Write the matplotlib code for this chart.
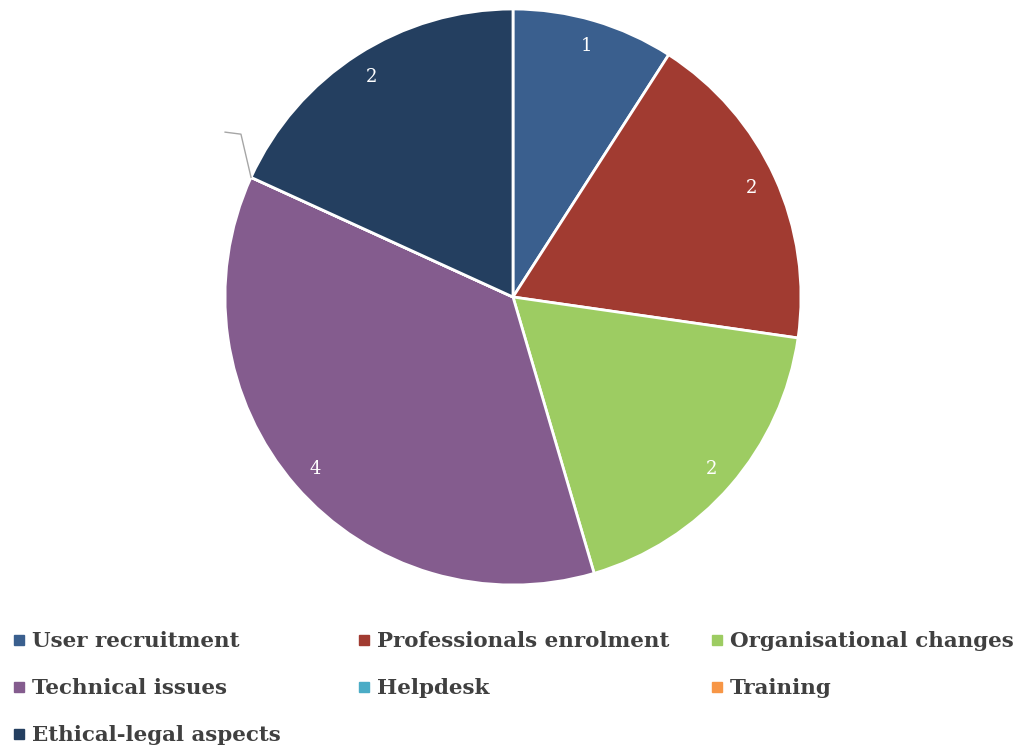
import numpy as np
import matplotlib
matplotlib.use("Agg")
import matplotlib.pyplot as plt
from matplotlib.lines import Line2D

categories = ["User recruitment", "Professionals enrolment", "Organisational changes",
              "Technical issues", "Helpdesk", "Training", "Ethical-legal aspects"]
values = [1, 2, 2, 4, 0, 0, 2]
colors = ["#3A5F8E", "#A13B31", "#9DCC62", "#845C8E", "#4BACC6", "#F79646", "#243F60"]

fig = plt.figure(figsize=(10.28, 7.49), dpi=100)
R_px = 288
cx, cy = 513, 297
ax = fig.add_axes([(cx - R_px) / 1028, (749 - cy - R_px) / 749, 2 * R_px / 1028, 2 * R_px / 749])

def fmt(p):
    v = p * sum(values) / 100.0
    return "" if v < 0.5 else f"{v:.0f}"

wedges, texts, autotexts = ax.pie(values, colors=colors, startangle=90, counterclock=False,
                                  autopct=fmt, pctdistance=0.91,
                                  wedgeprops=dict(edgecolor="white", linewidth=2),
                                  textprops=dict(color="white", fontsize=13, family="DejaVu Serif"))
ax.set_xlim(-1, 1)
ax.set_ylim(-1, 1)
ax.set_aspect("auto")
ax.axis("off")

# leader line for zero-valued slices (Helpdesk / Training)
th = np.deg2rad(wedges[3].theta1)
x0, y0 = np.cos(th), np.sin(th)
ax.add_line(Line2D([x0, x0 - 0.035, x0 - 0.09], [y0, y0 + 0.15, y0 + 0.157],
                   color="#A6A6A6", lw=1, clip_on=False))

rows = [[0, 3, 6], [1, 4], [2, 5]]
col_x = [14, 359, 712]
for xs, idx in zip(col_x, rows):
    handles = [Line2D([], [], marker="s", ls="", markersize=7.5, color=colors[i]) for i in idx]
    labs = [categories[i] for i in idx]
    fig.legend(handles, labs, loc="upper left", bbox_to_anchor=(xs / 1028, 1 - 631 / 749),
               frameon=False, handlelength=0.5, handletextpad=0.35, labelspacing=1.27,
               borderaxespad=0, borderpad=0,
               prop=dict(family="DejaVu Serif", weight="bold", size=15.4), labelcolor="#404040")

fig.savefig("out.png", dpi=100)
